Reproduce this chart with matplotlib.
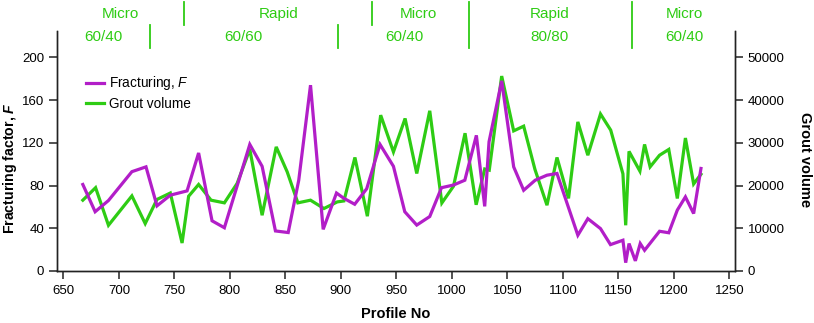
import matplotlib
matplotlib.use("Agg")
import matplotlib.pyplot as plt
from matplotlib.lines import Line2D

plt.rcParams['font.family'] = ['Liberation Sans', 'DejaVu Sans']
plt.rcParams['mathtext.fontset'] = 'custom'
plt.rcParams['mathtext.it'] = 'Liberation Sans:italic'
plt.rcParams['mathtext.bf'] = 'Liberation Sans:bold:italic'

# Fracturing factor F (left axis)
frac_profile = [667.5, 678.6, 690.6, 711.7, 724.4, 734.3, 746.3, 761.4, 771.8, 783.9,
                795.0, 817.9, 829.0, 841.0, 852.5, 862.0, 872.6, 884.0, 896.0, 902.7,
                912.4, 923.2, 935.2, 947.3, 957.5, 968.3, 980.0, 990.6, 1001.4, 1011.6,
                1022.0, 1029.5, 1033.4, 1044.8, 1055.6, 1064.6, 1075.0, 1085.6, 1094.6, 1113.4,
                1122.4, 1133.8, 1142.8, 1154.0, 1156.5, 1159.5, 1165.2, 1169.6, 1173.5, 1187.0,
                1195.3, 1203.0, 1210.3, 1217.7, 1224.3]
frac_values = [81, 55.5, 66, 93, 97.5, 61, 71, 75, 110.5, 47,
               40.5, 118.5, 98, 37.5, 36, 85, 174, 39, 73, 68,
               62.5, 77, 118.5, 98, 55.5, 43, 51, 78, 80.5, 85,
               127, 60.5, 121, 178, 97.5, 75.6, 85, 89.7, 91.3, 33.5,
               49, 39.7, 24.7, 28.8, 7.8, 25.7, 9.5, 25.7, 19.4, 37.2,
               35.8, 57, 69.4, 53.8, 96]

# Grout volume (right axis)
grout_profile = [667.5, 679.0, 690.6, 711.7, 723.7, 734.3, 746.3, 756.9, 762.8, 771.8,
                 783.0, 795.0, 806.5, 817.9, 829.0, 841.7, 851.6, 861.2, 872.6, 884.7,
                 896.7, 902.7, 912.6, 923.8, 935.8, 947.3, 957.8, 968.3, 980.0, 990.9,
                 1001.4, 1011.8, 1021.8, 1029.5, 1033.6, 1044.8, 1055.6, 1064.6, 1074.8, 1085.6,
                 1094.6, 1105.0, 1113.4, 1122.4, 1133.8, 1143.0, 1154.0, 1156.5, 1159.5, 1169.3,
                 1173.5, 1178.5, 1187.0, 1195.3, 1203.0, 1210.3, 1217.7, 1224.3]
grout_values = [16575, 19500, 10700, 17575, 11100, 16750, 18250, 6550, 17500, 20250,
                16575, 15950, 20500, 28450, 13050, 29050, 23200, 15950, 16575, 14625,
                16175, 16400, 26575, 12825, 36475, 27875, 35700, 22825, 37500, 15925,
                19850, 32250, 15500, 23875, 23600, 45625, 32800, 33900, 23750, 15400,
                26575, 17000, 34900, 27100, 36750, 32975, 22750, 10700, 28000, 23375,
                29625, 24375, 27100, 28450, 16975, 31125, 20375, 22650]

# Grouting zones shown above the plot
method_labels = ["Micro", "Rapid", "Micro", "Rapid", "Micro"]
method_centers = [701, 844, 970, 1088, 1209]
method_bounds = [759, 928]
mix_labels = ["60/40", "60/60", "60/40", "80/80", "60/40"]
mix_centers = [686, 812, 957, 1088, 1209]
mix_bounds = [728, 897]
shared_bounds = [1015, 1162]

frac_color = '#b21ec8'
grout_color = '#2ecc14'

fig = plt.figure(figsize=(8.14, 3.23), dpi=100)
ax = fig.add_axes([0.0697, 0.161, 0.8333, 0.744])
ax2 = ax.twinx()
ax.set_zorder(ax2.get_zorder() + 1)
ax.patch.set_visible(False)

ax2.plot(grout_profile, grout_values, color=grout_color, lw=2.3, solid_joinstyle='miter')
ax.plot(frac_profile, frac_values, color=frac_color, lw=2.3, solid_joinstyle='miter')

ax.set_xlim(644, 1255)
ax.set_ylim(0, 225)
ax2.set_ylim(0, 225 * 250)
ax.set_xticks(range(650, 1251, 50))
ax.set_yticks(range(0, 201, 40))
ax2.set_yticks(range(0, 50001, 10000))

for a in (ax, ax2):
    a.spines['top'].set_visible(False)
    for s in a.spines.values():
        s.set_linewidth(1.0)
        s.set_color('#222222')
    a.tick_params(direction='out', length=6, width=1.1, labelsize=9.5, color='#222222')
ax.tick_params(axis='y', pad=3)
ax2.tick_params(axis='y', pad=3)
ax.tick_params(axis='x', pad=4)

ax.set_xlabel('Profile No', fontsize=10.5, fontweight='bold', labelpad=7)
ax.set_ylabel('Fracturing factor, $\\mathbf{F}$', fontsize=10.2, fontweight='bold', labelpad=4)
ax.yaxis.set_label_coords(-0.055, 0.43)
ax2.set_ylabel('Grout volume', fontsize=10.5, fontweight='bold', rotation=270, labelpad=14)
ax2.yaxis.set_label_coords(1.113, 0.465)

handles = [Line2D([], [], color=frac_color, lw=2.3), Line2D([], [], color=grout_color, lw=2.3)]
ax.legend(handles, ['Fracturing, $F$', 'Grout volume'], loc='upper left',
          bbox_to_anchor=(0.043, 0.818), frameon=False, fontsize=9.8,
          handlelength=1.3, handletextpad=0.4, labelspacing=0.3, borderpad=0, borderaxespad=0)

# zone annotations
for lab, xc in zip(method_labels, method_centers):
    ax.text(xc, 241, lab, color=grout_color, fontsize=11, ha='center', va='center', clip_on=False)
for lab, xc in zip(mix_labels, mix_centers):
    ax.text(xc, 219, lab, color=grout_color, fontsize=11, ha='center', va='center', clip_on=False)
for xb in method_bounds:
    ax.plot([xb, xb], [230.3, 252], color=grout_color, lw=1.3, clip_on=False)
for xb in mix_bounds:
    ax.plot([xb, xb], [208.4, 230.3], color=grout_color, lw=1.3, clip_on=False)
for xb in shared_bounds:
    ax.plot([xb, xb], [208.4, 252], color=grout_color, lw=1.3, clip_on=False)

fig.savefig('out.png', dpi=100)
